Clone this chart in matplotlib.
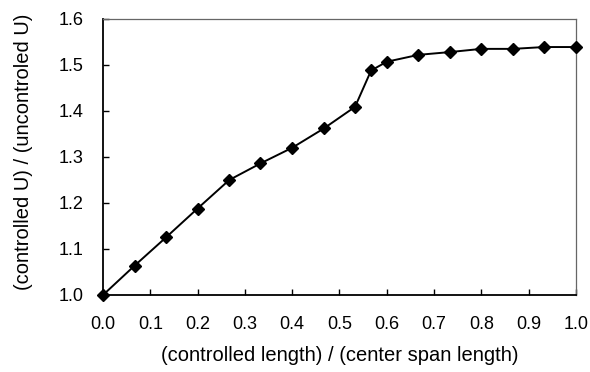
import matplotlib
matplotlib.use("Agg")
import matplotlib.pyplot as plt

x_vals = [0.0, 0.067, 0.133, 0.2, 0.267, 0.333, 0.4, 0.467, 0.533, 0.567,
          0.6, 0.667, 0.733, 0.8, 0.867, 0.933, 1.0]
y_vals = [1.0, 1.064, 1.125, 1.188, 1.25, 1.286, 1.32, 1.362, 1.409, 1.488,
          1.507, 1.522, 1.528, 1.535, 1.535, 1.539, 1.539]
x_ticks = [0.0, 0.1, 0.2, 0.3, 0.4, 0.5, 0.6, 0.7, 0.8, 0.9, 1.0]
y_ticks = [1.0, 1.1, 1.2, 1.3, 1.4, 1.5, 1.6]

plt.rcParams['font.family'] = ['Liberation Sans', 'DejaVu Sans']

fig = plt.figure(figsize=(5.9, 3.72), dpi=100)
ax = fig.add_axes([0.1746, 0.207, 0.8014, 0.742])
ax.plot(x_vals, y_vals, color='black', lw=1.4, marker='D', markersize=6.5,
        markerfacecolor='black', markeredgecolor='black', clip_on=False, zorder=3)
ax.set_xlim(0, 1.0)
ax.set_ylim(1.0, 1.6)
ax.set_xticks(x_ticks)
ax.set_yticks(y_ticks)
ax.set_xticklabels([f"{v:.1f}" for v in x_ticks])
ax.set_yticklabels([f"{v:.1f}" for v in y_ticks])
ax.tick_params(direction='in', length=4, width=1, labelsize=13, color='black')
ax.tick_params(axis='x', pad=15)
ax.tick_params(axis='y', pad=14)
for s in ['left', 'bottom']:
    ax.spines[s].set_color('black')
    ax.spines[s].set_linewidth(1.3)
for s in ['top', 'right']:
    ax.spines[s].set_color('#666666')
    ax.spines[s].set_linewidth(0.9)
ax.set_xlabel("(controlled length) / (center span length)", fontsize=14.5)
ax.set_ylabel("(controlled U) / (uncontroled U)", fontsize=14.5)
ax.xaxis.set_label_coords(0.5, -0.185)
ax.yaxis.set_label_coords(-0.148, 0.52)
fig.savefig("out.png", dpi=100)
